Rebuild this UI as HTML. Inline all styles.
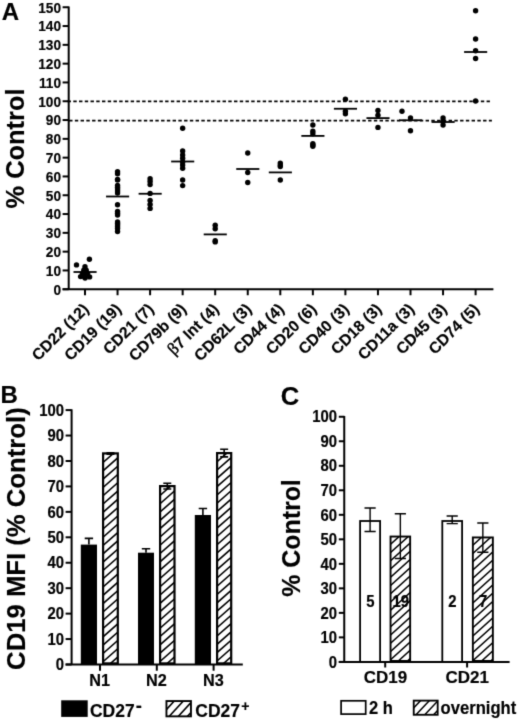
<!DOCTYPE html>
<html><head><meta charset="utf-8"><title>Figure</title>
<style>
html,body{margin:0;padding:0;background:#fff;}
body{width:520px;height:720px;overflow:hidden;}
svg{display:block;filter:grayscale(1);}
text{font-family:"Liberation Sans",sans-serif;font-weight:bold;fill:#000;stroke:#000;stroke-width:0.18px;}
.t13{font-size:13px;}
.t14{font-size:14px;}
.t15{font-size:15px;}
.t155{font-size:15.5px;}
.t24{font-size:24px;}
.t16{font-size:16px;}
.t17{font-size:17px;}
.t20{font-size:20px;}
.t25{font-size:25.4px;}
.t245{font-size:24.9px;}
.t255{font-size:25.7px;}
</style></head><body>
<svg width="520" height="720" viewBox="0 0 520 720">
<defs>
<filter id="soft" x="0" y="0" width="520" height="720" filterUnits="userSpaceOnUse" color-interpolation-filters="sRGB"><feConvolveMatrix order="3" kernelMatrix="1 6 1 6 36 6 1 6 1" divisor="64" edgeMode="duplicate" preserveAlpha="false"/></filter>
</defs>
<g filter="url(#soft)">
<rect width="520" height="720" fill="#fff"/>
<path d="M68.7 6.45V289.25" stroke="#000" stroke-width="2.0" fill="none"/>
<path d="M62.6 289.25H493.4" stroke="#000" stroke-width="2.0" fill="none"/>
<path d="M62.6 289.25H68.7" stroke="#000" stroke-width="2.0"/>
<text transform="translate(61.00 294.55) scale(0.91 1)" font-size="15" text-anchor="end">0</text>
<path d="M62.6 270.45H68.7" stroke="#000" stroke-width="2.0"/>
<text transform="translate(61.00 275.75) scale(0.91 1)" font-size="15" text-anchor="end">10</text>
<path d="M62.6 251.65H68.7" stroke="#000" stroke-width="2.0"/>
<text transform="translate(61.00 256.95) scale(0.91 1)" font-size="15" text-anchor="end">20</text>
<path d="M62.6 232.85H68.7" stroke="#000" stroke-width="2.0"/>
<text transform="translate(61.00 238.15) scale(0.91 1)" font-size="15" text-anchor="end">30</text>
<path d="M62.6 214.05H68.7" stroke="#000" stroke-width="2.0"/>
<text transform="translate(61.00 219.35) scale(0.91 1)" font-size="15" text-anchor="end">40</text>
<path d="M62.6 195.25H68.7" stroke="#000" stroke-width="2.0"/>
<text transform="translate(61.00 200.55) scale(0.91 1)" font-size="15" text-anchor="end">50</text>
<path d="M62.6 176.45H68.7" stroke="#000" stroke-width="2.0"/>
<text transform="translate(61.00 181.75) scale(0.91 1)" font-size="15" text-anchor="end">60</text>
<path d="M62.6 157.65H68.7" stroke="#000" stroke-width="2.0"/>
<text transform="translate(61.00 162.95) scale(0.91 1)" font-size="15" text-anchor="end">70</text>
<path d="M62.6 138.85H68.7" stroke="#000" stroke-width="2.0"/>
<text transform="translate(61.00 144.15) scale(0.91 1)" font-size="15" text-anchor="end">80</text>
<path d="M62.6 120.05H68.7" stroke="#000" stroke-width="2.0"/>
<text transform="translate(61.00 125.35) scale(0.91 1)" font-size="15" text-anchor="end">90</text>
<path d="M62.6 101.25H68.7" stroke="#000" stroke-width="2.0"/>
<text transform="translate(61.00 106.55) scale(0.91 1)" font-size="15" text-anchor="end">100</text>
<path d="M62.6 82.45H68.7" stroke="#000" stroke-width="2.0"/>
<text transform="translate(61.00 87.75) scale(0.91 1)" font-size="15" text-anchor="end">110</text>
<path d="M62.6 63.65H68.7" stroke="#000" stroke-width="2.0"/>
<text transform="translate(61.00 68.95) scale(0.91 1)" font-size="15" text-anchor="end">120</text>
<path d="M62.6 44.85H68.7" stroke="#000" stroke-width="2.0"/>
<text transform="translate(61.00 50.15) scale(0.91 1)" font-size="15" text-anchor="end">130</text>
<path d="M62.6 26.05H68.7" stroke="#000" stroke-width="2.0"/>
<text transform="translate(61.00 31.35) scale(0.91 1)" font-size="15" text-anchor="end">140</text>
<path d="M62.6 7.25H68.7" stroke="#000" stroke-width="2.0"/>
<text transform="translate(61.00 12.55) scale(0.91 1)" font-size="15" text-anchor="end">150</text>
<path d="M85.0 289.25V295.25" stroke="#000" stroke-width="2.0"/>
<path d="M117.55 289.25V295.25" stroke="#000" stroke-width="2.0"/>
<path d="M150.1 289.25V295.25" stroke="#000" stroke-width="2.0"/>
<path d="M182.64999999999998 289.25V295.25" stroke="#000" stroke-width="2.0"/>
<path d="M215.2 289.25V295.25" stroke="#000" stroke-width="2.0"/>
<path d="M247.75 289.25V295.25" stroke="#000" stroke-width="2.0"/>
<path d="M280.29999999999995 289.25V295.25" stroke="#000" stroke-width="2.0"/>
<path d="M312.84999999999997 289.25V295.25" stroke="#000" stroke-width="2.0"/>
<path d="M345.4 289.25V295.25" stroke="#000" stroke-width="2.0"/>
<path d="M377.95 289.25V295.25" stroke="#000" stroke-width="2.0"/>
<path d="M410.5 289.25V295.25" stroke="#000" stroke-width="2.0"/>
<path d="M443.04999999999995 289.25V295.25" stroke="#000" stroke-width="2.0"/>
<path d="M475.59999999999997 289.25V295.25" stroke="#000" stroke-width="2.0"/>
<path d="M67.56 101.40H489.9" stroke="#000" stroke-width="1.8" stroke-dasharray="3.4 2.34"/>
<path d="M69.1 120.55H491.9" stroke="#000" stroke-width="1.8" stroke-dasharray="3.4 2.35"/>
<path d="M73.5 272.0H96.6" stroke="#000" stroke-width="1.8"/>
<circle cx="76.50" cy="264.9" r="2.7"/>
<circle cx="89.40" cy="259.3" r="2.7"/>
<circle cx="85.00" cy="266.8" r="2.7"/>
<circle cx="83.80" cy="270.3" r="2.7"/>
<circle cx="86.20" cy="270.3" r="2.7"/>
<circle cx="82.40" cy="273.6" r="2.7"/>
<circle cx="87.60" cy="273.6" r="2.7"/>
<circle cx="85.00" cy="273" r="2.7"/>
<circle cx="80.60" cy="276.6" r="2.7"/>
<circle cx="85.10" cy="278.0" r="2.7"/>
<circle cx="89.60" cy="276.9" r="2.7"/>
<circle cx="83.50" cy="276.2" r="2.7"/>
<path d="M106.05 196.5H129.15" stroke="#000" stroke-width="1.8"/>
<circle cx="117.55" cy="171.8" r="2.7"/>
<circle cx="117.55" cy="173.8" r="2.7"/>
<circle cx="117.55" cy="179.5" r="2.7"/>
<circle cx="117.55" cy="179.9" r="2.7"/>
<circle cx="117.55" cy="185.5" r="2.7"/>
<circle cx="117.55" cy="187.3" r="2.7"/>
<circle cx="117.55" cy="189" r="2.7"/>
<circle cx="117.55" cy="191" r="2.7"/>
<circle cx="117.55" cy="193" r="2.7"/>
<circle cx="117.55" cy="204.8" r="2.7"/>
<circle cx="117.55" cy="211.5" r="2.7"/>
<circle cx="117.55" cy="213.2" r="2.7"/>
<circle cx="117.55" cy="215" r="2.7"/>
<circle cx="117.55" cy="222" r="2.7"/>
<circle cx="117.55" cy="223.5" r="2.7"/>
<circle cx="117.55" cy="225" r="2.7"/>
<circle cx="117.55" cy="226.8" r="2.7"/>
<circle cx="117.55" cy="228.5" r="2.7"/>
<circle cx="117.55" cy="231.5" r="2.7"/>
<path d="M138.6 193.75H161.7" stroke="#000" stroke-width="1.8"/>
<circle cx="150.10" cy="178.7" r="2.7"/>
<circle cx="150.10" cy="181.5" r="2.7"/>
<circle cx="150.10" cy="184.6" r="2.7"/>
<circle cx="150.10" cy="193.4" r="2.7"/>
<circle cx="150.10" cy="200.5" r="2.7"/>
<circle cx="150.10" cy="204.4" r="2.7"/>
<circle cx="150.10" cy="208.4" r="2.7"/>
<path d="M171.14999999999998 161.5H194.24999999999997" stroke="#000" stroke-width="1.8"/>
<circle cx="182.65" cy="128.2" r="2.7"/>
<circle cx="182.65" cy="151" r="2.7"/>
<circle cx="182.65" cy="155" r="2.7"/>
<circle cx="182.65" cy="158.3" r="2.7"/>
<circle cx="182.65" cy="162" r="2.7"/>
<circle cx="182.65" cy="164.9" r="2.7"/>
<circle cx="182.65" cy="168.2" r="2.7"/>
<circle cx="182.65" cy="180" r="2.7"/>
<circle cx="182.65" cy="185.6" r="2.7"/>
<path d="M203.7 234.4H226.79999999999998" stroke="#000" stroke-width="1.8"/>
<circle cx="215.20" cy="225.2" r="2.7"/>
<circle cx="215.20" cy="228.8" r="2.7"/>
<circle cx="215.20" cy="240.8" r="2.7"/>
<circle cx="215.20" cy="241.9" r="2.7"/>
<path d="M236.25 169H259.35" stroke="#000" stroke-width="1.8"/>
<circle cx="247.75" cy="153" r="2.7"/>
<circle cx="247.75" cy="172.5" r="2.7"/>
<circle cx="247.75" cy="182.5" r="2.7"/>
<path d="M268.79999999999995 172.4H291.9" stroke="#000" stroke-width="1.8"/>
<circle cx="280.30" cy="163.1" r="2.7"/>
<circle cx="280.30" cy="166.5" r="2.7"/>
<circle cx="280.30" cy="180" r="2.7"/>
<circle cx="280.30" cy="165" r="2.7"/>
<path d="M301.34999999999997 135.9H324.45" stroke="#000" stroke-width="1.8"/>
<circle cx="312.85" cy="125" r="2.7"/>
<circle cx="312.85" cy="131.25" r="2.7"/>
<circle cx="312.85" cy="133.75" r="2.7"/>
<circle cx="312.85" cy="143.75" r="2.7"/>
<circle cx="312.85" cy="146.25" r="2.7"/>
<circle cx="312.85" cy="145" r="2.7"/>
<path d="M333.9 108.75H357.0" stroke="#000" stroke-width="1.8"/>
<circle cx="345.40" cy="99.25" r="2.7"/>
<circle cx="345.40" cy="111.25" r="2.7"/>
<circle cx="345.40" cy="113.75" r="2.7"/>
<path d="M366.45 118.1H389.55" stroke="#000" stroke-width="1.8"/>
<circle cx="377.95" cy="110.5" r="2.7"/>
<circle cx="377.95" cy="115.2" r="2.7"/>
<circle cx="377.95" cy="127.4" r="2.7"/>
<path d="M399.0 120.25H422.1" stroke="#000" stroke-width="1.8"/>
<circle cx="402.00" cy="111.25" r="2.7"/>
<circle cx="410.50" cy="118" r="2.7"/>
<circle cx="410.50" cy="130.75" r="2.7"/>
<path d="M431.54999999999995 122H454.65" stroke="#000" stroke-width="1.8"/>
<circle cx="443.05" cy="118" r="2.7"/>
<circle cx="443.05" cy="121.25" r="2.7"/>
<circle cx="443.05" cy="125" r="2.7"/>
<path d="M464.09999999999997 52H487.2" stroke="#000" stroke-width="1.8"/>
<circle cx="475.60" cy="10.75" r="2.7"/>
<circle cx="475.60" cy="39" r="2.7"/>
<circle cx="475.60" cy="50.75" r="2.7"/>
<circle cx="475.60" cy="58.5" r="2.7"/>
<circle cx="475.60" cy="101" r="2.7"/>
<text transform="translate(89.60 310.10) rotate(-45)" font-size="15.75" text-anchor="end" stroke-width="0">CD22 (12)</text>
<text transform="translate(122.15 310.10) rotate(-45)" font-size="15.75" text-anchor="end" stroke-width="0">CD19 (19)</text>
<text transform="translate(154.70 310.10) rotate(-45)" font-size="15.75" text-anchor="end" stroke-width="0">CD21 (7)</text>
<text transform="translate(187.25 310.10) rotate(-45)" font-size="15.75" text-anchor="end" stroke-width="0">CD79b (9)</text>
<text transform="translate(219.80 310.10) rotate(-45)" font-size="15.75" text-anchor="end" stroke-width="0"><tspan font-family="Liberation Serif" font-weight="normal" font-size="17" stroke-width="0.45">β</tspan>7 Int (4)</text>
<text transform="translate(252.35 310.10) rotate(-45)" font-size="15.75" text-anchor="end" stroke-width="0">CD62L (3)</text>
<text transform="translate(284.90 310.10) rotate(-45)" font-size="15.75" text-anchor="end" stroke-width="0">CD44 (4)</text>
<text transform="translate(317.45 310.10) rotate(-45)" font-size="15.75" text-anchor="end" stroke-width="0">CD20 (6)</text>
<text transform="translate(350.00 310.10) rotate(-45)" font-size="15.75" text-anchor="end" stroke-width="0">CD40 (3)</text>
<text transform="translate(382.55 310.10) rotate(-45)" font-size="15.75" text-anchor="end" stroke-width="0">CD18 (3)</text>
<text transform="translate(415.10 310.10) rotate(-45)" font-size="15.75" text-anchor="end" stroke-width="0">CD11a (3)</text>
<text transform="translate(447.65 310.10) rotate(-45)" font-size="15.75" text-anchor="end" stroke-width="0">CD45 (3)</text>
<text transform="translate(480.20 310.10) rotate(-45)" font-size="15.75" text-anchor="end" stroke-width="0">CD74 (5)</text>
<text transform="translate(1.80 20.00)" font-size="24">A</text>
<text transform="translate(24.3 148.5) rotate(-90)" text-anchor="middle" class="t25">% Control</text>
<path d="M71.6 409.3V664.5" stroke="#000" stroke-width="2.0" fill="none"/>
<path d="M65.6 664.5H242.8" stroke="#000" stroke-width="2.0" fill="none"/>
<path d="M65.6 664.50H71.6" stroke="#000" stroke-width="2.0"/>
<text transform="translate(64.00 670.20) scale(0.93 1)" font-size="16" text-anchor="end">0</text>
<path d="M65.6 639.06H71.6" stroke="#000" stroke-width="2.0"/>
<text transform="translate(64.00 644.76) scale(0.93 1)" font-size="16" text-anchor="end">10</text>
<path d="M65.6 613.62H71.6" stroke="#000" stroke-width="2.0"/>
<text transform="translate(64.00 619.32) scale(0.93 1)" font-size="16" text-anchor="end">20</text>
<path d="M65.6 588.18H71.6" stroke="#000" stroke-width="2.0"/>
<text transform="translate(64.00 593.88) scale(0.93 1)" font-size="16" text-anchor="end">30</text>
<path d="M65.6 562.74H71.6" stroke="#000" stroke-width="2.0"/>
<text transform="translate(64.00 568.44) scale(0.93 1)" font-size="16" text-anchor="end">40</text>
<path d="M65.6 537.30H71.6" stroke="#000" stroke-width="2.0"/>
<text transform="translate(64.00 543.00) scale(0.93 1)" font-size="16" text-anchor="end">50</text>
<path d="M65.6 511.86H71.6" stroke="#000" stroke-width="2.0"/>
<text transform="translate(64.00 517.56) scale(0.93 1)" font-size="16" text-anchor="end">60</text>
<path d="M65.6 486.42H71.6" stroke="#000" stroke-width="2.0"/>
<text transform="translate(64.00 492.12) scale(0.93 1)" font-size="16" text-anchor="end">70</text>
<path d="M65.6 460.98H71.6" stroke="#000" stroke-width="2.0"/>
<text transform="translate(64.00 466.68) scale(0.93 1)" font-size="16" text-anchor="end">80</text>
<path d="M65.6 435.54H71.6" stroke="#000" stroke-width="2.0"/>
<text transform="translate(64.00 441.24) scale(0.93 1)" font-size="16" text-anchor="end">90</text>
<path d="M65.6 410.10H71.6" stroke="#000" stroke-width="2.0"/>
<text transform="translate(64.00 415.80) scale(0.93 1)" font-size="16" text-anchor="end">100</text>
<rect x="80.8" y="544.6" width="16.200000000000003" height="119.89999999999998" fill="#000"/>
<path d="M88.9 544.6V538.4M84.7 538.4H93.10000000000001" stroke="#000" stroke-width="1.6" fill="none"/>
<clipPath id="c1"><rect x="103.10" y="453.40" width="14.70" height="210.00"/></clipPath>
<rect x="103.10" y="453.40" width="14.70" height="210.00" fill="#fff"/>
<path d="M100.20 440.12L122.90 420.14M100.20 448.42L122.90 428.44M100.20 456.72L122.90 436.74M100.20 465.02L122.90 445.04M100.20 473.32L122.90 453.34M100.20 481.62L122.90 461.64M100.20 489.92L122.90 469.94M100.20 498.22L122.90 478.24M100.20 506.52L122.90 486.54M100.20 514.82L122.90 494.84M100.20 523.12L122.90 503.14M100.20 531.42L122.90 511.44M100.20 539.72L122.90 519.74M100.20 548.02L122.90 528.04M100.20 556.32L122.90 536.34M100.20 564.62L122.90 544.64M100.20 572.92L122.90 552.94M100.20 581.22L122.90 561.24M100.20 589.52L122.90 569.54M100.20 597.82L122.90 577.84M100.20 606.12L122.90 586.14M100.20 614.42L122.90 594.44M100.20 622.72L122.90 602.74M100.20 631.02L122.90 611.04M100.20 639.32L122.90 619.34M100.20 647.62L122.90 627.64M100.20 655.92L122.90 635.94M100.20 664.22L122.90 644.24M100.20 672.52L122.90 652.54M100.20 680.82L122.90 660.84M100.20 689.12L122.90 669.14M100.20 697.42L122.90 677.44" stroke="#000" stroke-width="1.6" fill="none" clip-path="url(#c1)"/>
<rect x="103.10" y="453.40" width="14.70" height="210.00" fill="none" stroke="#000" stroke-width="2.2"/>
<path d="M110.45 452.7V454.1000000000001M106.45 452.7H114.45M106.45 454.1000000000001H114.45" stroke="#000" stroke-width="1.6" fill="none"/>
<rect x="138" y="552.7" width="16" height="111.79999999999995" fill="#000"/>
<path d="M146.0 552.7V548.8M141.8 548.8H150.2" stroke="#000" stroke-width="1.6" fill="none"/>
<clipPath id="c2"><rect x="160.10" y="486.10" width="14.40" height="177.30"/></clipPath>
<rect x="160.10" y="486.10" width="14.40" height="177.30" fill="#fff"/>
<path d="M157.20 473.02L179.60 453.31M157.20 481.32L179.60 461.61M157.20 489.62L179.60 469.91M157.20 497.92L179.60 478.21M157.20 506.22L179.60 486.51M157.20 514.52L179.60 494.81M157.20 522.82L179.60 503.11M157.20 531.12L179.60 511.41M157.20 539.42L179.60 519.71M157.20 547.72L179.60 528.01M157.20 556.02L179.60 536.31M157.20 564.32L179.60 544.61M157.20 572.62L179.60 552.91M157.20 580.92L179.60 561.21M157.20 589.22L179.60 569.51M157.20 597.52L179.60 577.81M157.20 605.82L179.60 586.11M157.20 614.12L179.60 594.41M157.20 622.42L179.60 602.71M157.20 630.72L179.60 611.01M157.20 639.02L179.60 619.31M157.20 647.32L179.60 627.61M157.20 655.62L179.60 635.91M157.20 663.92L179.60 644.21M157.20 672.22L179.60 652.51M157.20 680.52L179.60 660.81M157.20 688.82L179.60 669.11M157.20 697.12L179.60 677.41" stroke="#000" stroke-width="1.6" fill="none" clip-path="url(#c2)"/>
<rect x="160.10" y="486.10" width="14.40" height="177.30" fill="none" stroke="#000" stroke-width="2.2"/>
<path d="M167.3 483.25V488.95000000000005M163.3 483.25H171.3M163.3 488.95000000000005H171.3" stroke="#000" stroke-width="1.6" fill="none"/>
<rect x="194.8" y="515" width="16.19999999999999" height="149.5" fill="#000"/>
<path d="M202.9 515V508.5M198.70000000000002 508.5H207.1" stroke="#000" stroke-width="1.6" fill="none"/>
<clipPath id="c3"><rect x="217.10" y="453.10" width="14.10" height="210.30"/></clipPath>
<rect x="217.10" y="453.10" width="14.10" height="210.30" fill="#fff"/>
<path d="M214.20 439.32L236.30 419.87M214.20 447.62L236.30 428.17M214.20 455.92L236.30 436.47M214.20 464.22L236.30 444.77M214.20 472.52L236.30 453.07M214.20 480.82L236.30 461.37M214.20 489.12L236.30 469.67M214.20 497.42L236.30 477.97M214.20 505.72L236.30 486.27M214.20 514.02L236.30 494.57M214.20 522.32L236.30 502.87M214.20 530.62L236.30 511.17M214.20 538.92L236.30 519.47M214.20 547.22L236.30 527.77M214.20 555.52L236.30 536.07M214.20 563.82L236.30 544.37M214.20 572.12L236.30 552.67M214.20 580.42L236.30 560.97M214.20 588.72L236.30 569.27M214.20 597.02L236.30 577.57M214.20 605.32L236.30 585.87M214.20 613.62L236.30 594.17M214.20 621.92L236.30 602.47M214.20 630.22L236.30 610.77M214.20 638.52L236.30 619.07M214.20 646.82L236.30 627.37M214.20 655.12L236.30 635.67M214.20 663.42L236.30 643.97M214.20 671.72L236.30 652.27M214.20 680.02L236.30 660.57M214.20 688.32L236.30 668.87M214.20 696.62L236.30 677.17" stroke="#000" stroke-width="1.6" fill="none" clip-path="url(#c3)"/>
<rect x="217.10" y="453.10" width="14.10" height="210.30" fill="none" stroke="#000" stroke-width="2.2"/>
<path d="M224.15 449.3V456.90000000000003M220.15 449.3H228.15M220.15 456.90000000000003H228.15" stroke="#000" stroke-width="1.6" fill="none"/>
<path d="M100.0 664.5V670.7" stroke="#000" stroke-width="2.0"/>
<text transform="translate(99.70 686.40) scale(0.94 1)" font-size="17.3" text-anchor="middle">N1</text>
<path d="M156.8 664.5V670.7" stroke="#000" stroke-width="2.0"/>
<text transform="translate(156.50 686.40) scale(0.94 1)" font-size="17.3" text-anchor="middle">N2</text>
<path d="M213.6 664.5V670.7" stroke="#000" stroke-width="2.0"/>
<text transform="translate(213.30 686.40) scale(0.94 1)" font-size="17.3" text-anchor="middle">N3</text>
<rect x="61.2" y="700.3" width="26.5" height="16.6" fill="#000"/>
<text transform="translate(90.00 716.90) scale(0.97 1)" font-size="18">CD27<tspan dy="-5" dx="1.2" font-size="19">-</tspan></text>
<clipPath id="c4"><rect x="166.45" y="701.05" width="24.50" height="15.30"/></clipPath>
<rect x="166.45" y="701.05" width="24.50" height="15.30" fill="#fff"/>
<path d="M163.40 693.01L195.90 657.59M163.40 702.91L195.90 667.49M163.40 712.81L195.90 677.38M163.40 722.71L195.90 687.28M163.40 732.61L195.90 697.18M163.40 742.51L195.90 707.09M163.40 752.41L195.90 716.99M163.40 762.31L195.90 726.88" stroke="#000" stroke-width="1.6" fill="none" clip-path="url(#c4)"/>
<rect x="166.45" y="701.05" width="24.50" height="15.30" fill="none" stroke="#000" stroke-width="1.9"/>
<text transform="translate(195.30 716.90) scale(0.97 1)" font-size="18">CD27<tspan dy="-5.5" dx="1.5" font-size="14.5">+</tspan></text>
<text transform="translate(0.60 403.00)" font-size="24">B</text>
<text transform="translate(25 538.6) rotate(-90)" text-anchor="middle" class="t255">CD19 MFI (% Control)</text>
<path d="M344.25 415.95V661.9" stroke="#000" stroke-width="2.0" fill="none"/>
<path d="M338.8 661.9H509.6" stroke="#000" stroke-width="2.0" fill="none"/>
<path d="M338.8 661.90H344.25" stroke="#000" stroke-width="2.0"/>
<text transform="translate(337.10 667.60) scale(0.93 1)" font-size="16" text-anchor="end">0</text>
<path d="M338.8 637.38H344.25" stroke="#000" stroke-width="2.0"/>
<text transform="translate(337.10 643.09) scale(0.93 1)" font-size="16" text-anchor="end">10</text>
<path d="M338.8 612.87H344.25" stroke="#000" stroke-width="2.0"/>
<text transform="translate(337.10 618.57) scale(0.93 1)" font-size="16" text-anchor="end">20</text>
<path d="M338.8 588.36H344.25" stroke="#000" stroke-width="2.0"/>
<text transform="translate(337.10 594.06) scale(0.93 1)" font-size="16" text-anchor="end">30</text>
<path d="M338.8 563.84H344.25" stroke="#000" stroke-width="2.0"/>
<text transform="translate(337.10 569.54) scale(0.93 1)" font-size="16" text-anchor="end">40</text>
<path d="M338.8 539.33H344.25" stroke="#000" stroke-width="2.0"/>
<text transform="translate(337.10 545.03) scale(0.93 1)" font-size="16" text-anchor="end">50</text>
<path d="M338.8 514.81H344.25" stroke="#000" stroke-width="2.0"/>
<text transform="translate(337.10 520.51) scale(0.93 1)" font-size="16" text-anchor="end">60</text>
<path d="M338.8 490.29H344.25" stroke="#000" stroke-width="2.0"/>
<text transform="translate(337.10 495.99) scale(0.93 1)" font-size="16" text-anchor="end">70</text>
<path d="M338.8 465.78H344.25" stroke="#000" stroke-width="2.0"/>
<text transform="translate(337.10 471.48) scale(0.93 1)" font-size="16" text-anchor="end">80</text>
<path d="M338.8 441.26H344.25" stroke="#000" stroke-width="2.0"/>
<text transform="translate(337.10 446.96) scale(0.93 1)" font-size="16" text-anchor="end">90</text>
<path d="M338.8 416.75H344.25" stroke="#000" stroke-width="2.0"/>
<text transform="translate(337.10 422.45) scale(0.93 1)" font-size="16" text-anchor="end">100</text>
<rect x="360.09999999999997" y="521.0" width="20.00000000000001" height="140.89999999999995" fill="#fff" stroke="#000" stroke-width="1.8"/>
<path d="M370.1 508V531.5M364.5 508H375.70000000000005M364.5 531.5H375.70000000000005" stroke="#000" stroke-width="1.4" fill="none"/>
<text transform="translate(370.40 607.30) scale(0.93 1)" font-size="16" text-anchor="middle">5</text>
<clipPath id="c5"><rect x="390.55" y="536.55" width="19.60" height="124.40"/></clipPath>
<rect x="390.55" y="536.55" width="19.60" height="124.40" fill="#fff"/>
<path d="M387.50 530.50L415.10 505.66M387.50 538.75L415.10 513.91M387.50 547.00L415.10 522.16M387.50 555.25L415.10 530.41M387.50 563.50L415.10 538.66M387.50 571.75L415.10 546.91M387.50 580.00L415.10 555.16M387.50 588.25L415.10 563.41M387.50 596.50L415.10 571.66M387.50 604.75L415.10 579.91M387.50 613.00L415.10 588.16M387.50 621.25L415.10 596.41M387.50 629.50L415.10 604.66M387.50 637.75L415.10 612.91M387.50 646.00L415.10 621.16M387.50 654.25L415.10 629.41M387.50 662.50L415.10 637.66M387.50 670.75L415.10 645.91M387.50 679.00L415.10 654.16M387.50 687.25L415.10 662.41M387.50 695.50L415.10 670.66" stroke="#000" stroke-width="1.5" fill="none" clip-path="url(#c5)"/>
<rect x="390.55" y="536.55" width="19.60" height="124.40" fill="none" stroke="#000" stroke-width="1.9"/>
<path d="M400.35 513.7V558.5M394.75 513.7H405.95000000000005M394.75 558.5H405.95000000000005" stroke="#000" stroke-width="1.4" fill="none"/>
<text transform="translate(400.65 607.30) scale(0.93 1)" font-size="16" text-anchor="middle">19</text>
<rect x="442.29999999999995" y="521.0" width="19.800000000000022" height="140.89999999999995" fill="#fff" stroke="#000" stroke-width="1.8"/>
<path d="M452.2 516V523.6M446.59999999999997 516H457.8M446.59999999999997 523.6H457.8" stroke="#000" stroke-width="1.4" fill="none"/>
<text transform="translate(452.50 607.30) scale(0.93 1)" font-size="16" text-anchor="middle">2</text>
<clipPath id="c6"><rect x="472.85" y="537.45" width="20.00" height="123.50"/></clipPath>
<rect x="472.85" y="537.45" width="20.00" height="123.50" fill="#fff"/>
<path d="M469.80 531.40L497.80 506.20M469.80 539.65L497.80 514.45M469.80 547.90L497.80 522.70M469.80 556.15L497.80 530.95M469.80 564.40L497.80 539.20M469.80 572.65L497.80 547.45M469.80 580.90L497.80 555.70M469.80 589.15L497.80 563.95M469.80 597.40L497.80 572.20M469.80 605.65L497.80 580.45M469.80 613.90L497.80 588.70M469.80 622.15L497.80 596.95M469.80 630.40L497.80 605.20M469.80 638.65L497.80 613.45M469.80 646.90L497.80 621.70M469.80 655.15L497.80 629.95M469.80 663.40L497.80 638.20M469.80 671.65L497.80 646.45M469.80 679.90L497.80 654.70M469.80 688.15L497.80 662.95M469.80 696.40L497.80 671.20" stroke="#000" stroke-width="1.5" fill="none" clip-path="url(#c6)"/>
<rect x="472.85" y="537.45" width="20.00" height="123.50" fill="none" stroke="#000" stroke-width="1.9"/>
<path d="M482.85 523.0V552.2M477.25 523.0H488.45000000000005M477.25 552.2H488.45000000000005" stroke="#000" stroke-width="1.4" fill="none"/>
<text transform="translate(483.15 607.30) scale(0.93 1)" font-size="16" text-anchor="middle">7</text>
<path d="M385.2 661.9V667.5" stroke="#000" stroke-width="2.0"/>
<text transform="translate(385.40 682.80)" font-size="17" text-anchor="middle">CD19</text>
<path d="M467.1 661.9V667.5" stroke="#000" stroke-width="2.0"/>
<text transform="translate(467.30 682.80)" font-size="17" text-anchor="middle">CD21</text>
<rect x="341.1" y="700.8" width="24.6" height="13.3" fill="#fff" stroke="#000" stroke-width="1.7"/>
<text transform="translate(368.90 713.60) scale(0.92 1)" font-size="18">2 h</text>
<clipPath id="c7"><rect x="413.73" y="700.62" width="23.95" height="14.15"/></clipPath>
<rect x="413.73" y="700.62" width="23.95" height="14.15" fill="#fff"/>
<path d="M410.65 692.54L442.60 658.67M410.65 701.84L442.60 667.97M410.65 711.14L442.60 677.27M410.65 720.44L442.60 686.57M410.65 729.74L442.60 695.87M410.65 739.04L442.60 705.17M410.65 748.34L442.60 714.47M410.65 757.64L442.60 723.77" stroke="#000" stroke-width="1.5" fill="none" clip-path="url(#c7)"/>
<rect x="413.73" y="700.62" width="23.95" height="14.15" fill="none" stroke="#000" stroke-width="1.85"/>
<text transform="translate(440.60 713.50) scale(0.924 1)" font-size="18">overnight</text>
<text transform="translate(280.80 405.10)" font-size="25.6">C</text>
<text transform="translate(300 538) rotate(-90)" text-anchor="middle" class="t245">% Control</text>
</g>
</svg>
</body></html>
